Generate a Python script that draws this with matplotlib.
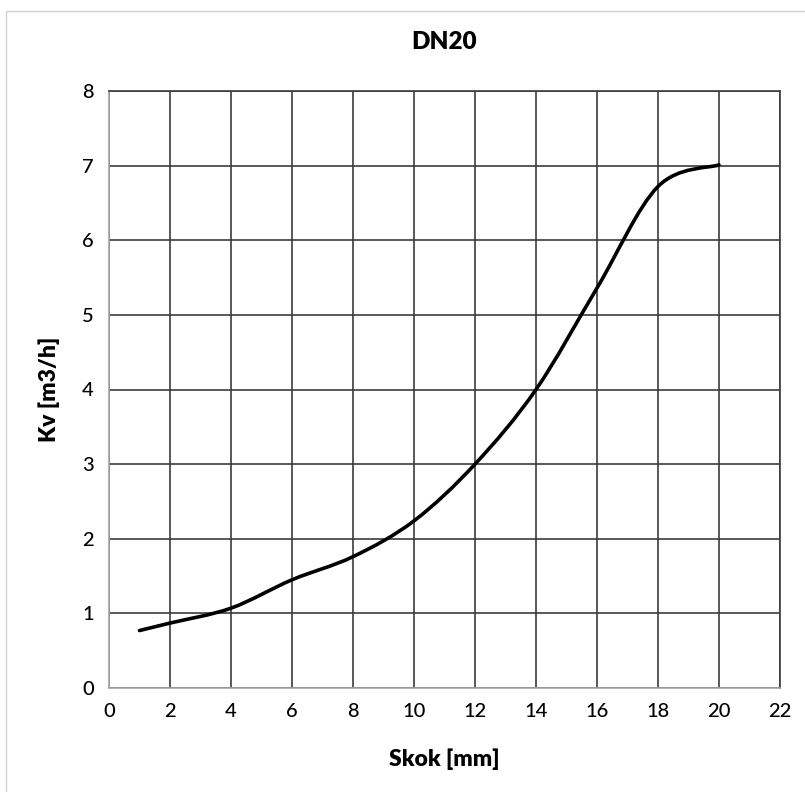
import numpy as np
import matplotlib
matplotlib.use("Agg")
import matplotlib.pyplot as plt
from matplotlib.path import Path
from matplotlib.patches import PathPatch, Rectangle

# data
stroke_mm = [1, 2, 4, 6, 8, 10, 12, 14, 16, 18, 20]
kv_m3h = [0.77, 0.87, 1.07, 1.45, 1.76, 2.24, 3.0, 4.0, 5.36, 6.72, 7.01]
x_ticks = list(range(0, 23, 2))
y_ticks = list(range(0, 9))

plt.rcParams['font.family'] = ['Lato', 'DejaVu Sans']


def smooth_path(xs, ys):
    # Excel-like smoothed line: cubic Bezier through the points
    pts = np.column_stack([xs, ys]).astype(float)
    n = len(pts)
    verts = [pts[0]]
    codes = [Path.MOVETO]
    for i in range(n - 1):
        p0 = pts[i - 1] if i > 0 else pts[i]
        p1 = pts[i]
        p2 = pts[i + 1]
        p3 = pts[i + 2] if i + 2 < n else pts[i + 1]
        c1 = p1 + (p2 - p0) / 6.0
        c2 = p2 - (p3 - p1) / 6.0
        verts += [c1, c2, p2]
        codes += [Path.CURVE4] * 3
    return Path(verts, codes)


fig = plt.figure(figsize=(8.05, 7.92), dpi=100)
fig.patches.append(Rectangle((6 / 805, -0.01), 1.0, 1 - 11 / 792 + 0.01,
                             transform=fig.transFigure, fill=False,
                             edgecolor="#d0d0d0", linewidth=1))
ax = fig.add_axes([109 / 805, 1 - 688 / 792, (780 - 109) / 805, (688 - 91) / 792])

ax.add_patch(PathPatch(smooth_path(stroke_mm, kv_m3h), facecolor="none",
                       edgecolor="black", linewidth=2.6, capstyle="round", zorder=3))

ax.set_xlim(0, 22)
ax.set_ylim(0, 8)
ax.set_xticks(x_ticks)
ax.set_yticks(y_ticks)
ax.grid(True, color="#3c3c3c", linewidth=1.2)
ax.set_axisbelow(True)
for s in ["left", "bottom"]:
    ax.spines[s].set_color("#a6a6a6")
    ax.spines[s].set_linewidth(1.2)
for s in ["top", "right"]:
    ax.spines[s].set_color("#3c3c3c")
    ax.spines[s].set_linewidth(1.2)
ax.tick_params(length=0, labelsize=14.5, pad=11)
for lbl in ax.get_xticklabels() + ax.get_yticklabels():
    lbl.set_fontweight("medium")

ax.set_title("DN20", fontsize=17.5, fontweight="heavy", pad=30)
ax.set_xlabel("Skok [mm]", fontsize=16.5, fontweight="heavy", labelpad=20)
ax.set_ylabel("Kv [m3/h]", fontsize=16.5, fontweight="heavy", labelpad=16)

fig.savefig("out.png", dpi=100)
